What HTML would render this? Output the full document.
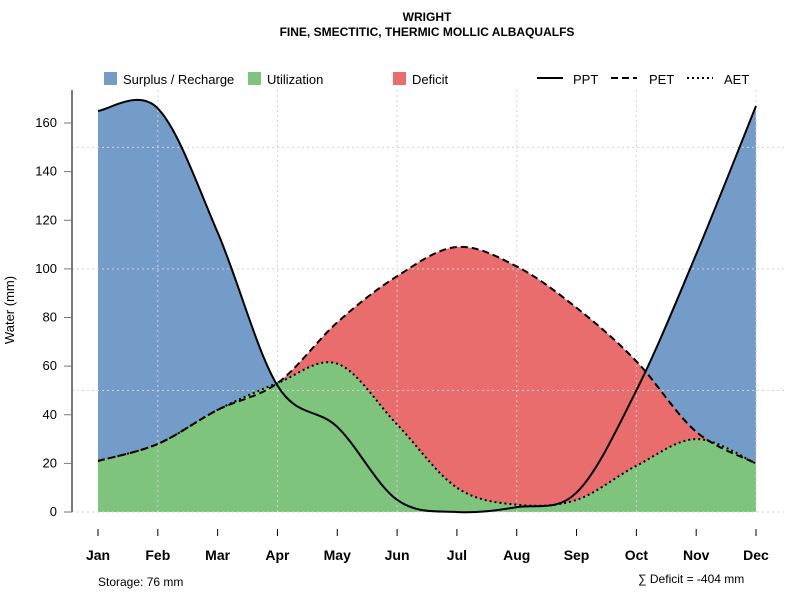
<!DOCTYPE html>
<html><head><meta charset="utf-8"><style>
body{margin:0;background:#fff;font-family:"Liberation Sans",sans-serif}
</style></head><body>
<svg id="c" width="800" height="600" xmlns="http://www.w3.org/2000/svg" font-family="Liberation Sans, sans-serif">
<text x="427" y="21" text-anchor="middle" font-size="12" font-weight="bold">WRIGHT</text>
<text x="427" y="36" text-anchor="middle" font-size="12" font-weight="bold">FINE, SMECTITIC, THERMIC MOLLIC ALBAQUALFS</text>
<g id="fills"></g>
<g id="grid"></g>
<g id="lines"></g>
<g id="axes"></g>
<g font-size="13">
<rect x="104" y="72" width="13" height="13" fill="#739cc8"/>
<text x="123" y="84">Surplus / Recharge</text>
<rect x="248" y="72" width="13" height="13" fill="#7fc47d"/>
<text x="267" y="84">Utilization</text>
<rect x="393" y="72" width="13" height="13" fill="#ea6d6d"/>
<text x="412" y="84">Deficit</text>
<line x1="537" y1="78" x2="563" y2="78" stroke="#000" stroke-width="2"/>
<text x="573" y="84">PPT</text>
<line x1="611" y1="78" x2="637" y2="78" stroke="#000" stroke-width="2" stroke-dasharray="7,4"/>
<text x="649" y="84">PET</text>
<line x1="687" y1="78" x2="713" y2="78" stroke="#000" stroke-width="2" stroke-dasharray="2,3"/>
<text x="724" y="84">AET</text>
</g>
<text x="14" y="310" transform="rotate(-90 14 310)" text-anchor="middle" font-size="13">Water (mm)</text>
<text x="98" y="586" font-size="12">Storage: 76 mm</text>
<text x="638" y="583" font-size="12">∑ Deficit = -404 mm</text>
</svg>
<script>
const months=["Jan","Feb","Mar","Apr","May","Jun","Jul","Aug","Sep","Oct","Nov","Dec"];
const ppt=[165,166,115,52,35,5,0,2,8,50,106,167];
const pet=[21,28,42,53,78,97,109,101,84,62,33,20];
const aet=[21,28,42,53,61,36,10,3,5,19,30,20];
const yTicks=[0,20,40,60,80,100,120,140,160];
const NS="http://www.w3.org/2000/svg";
const X=i=>98+i*(756-98)/11;
const Y=v=>512-v*(512-123)/160;
function mk(tag,attrs,parent){const e=document.createElementNS(NS,tag);for(const k in attrs)e.setAttribute(k,attrs[k]);document.getElementById(parent).appendChild(e);return e;}
function curve(d){
  const p=d.map((v,i)=>[X(i),Y(v)]);let s="M"+p[0][0]+","+p[0][1];
  for(let i=0;i<p.length-1;i++){const p0=p[Math.max(0,i-1)],p1=p[i],p2=p[i+1],p3=p[Math.min(p.length-1,i+2)];
    s+=" C"+(p1[0]+(p2[0]-p0[0])/6)+","+(p1[1]+(p2[1]-p0[1])/6)+" "+(p2[0]-(p3[0]-p1[0])/6)+","+(p2[1]-(p3[1]-p1[1])/6)+" "+p2[0]+","+p2[1];}
  return s;}
function area(d){return curve(d)+" L"+X(11)+","+Y(0)+" L"+X(0)+","+Y(0)+" Z";}
let e;
e=mk("path",{d:area(ppt),fill:"#739cc8"},"fills");


e=mk("path",{d:area(pet),fill:"#ea6d6d"},"fills");


e=mk("path",{d:area(aet),fill:"#7fc47d"},"fills");


[0,50,100,150].forEach(v=>{e=mk("line",{x1:72,x2:785,y1:Y(v),y2:Y(v),stroke:"#d3d3d3","stroke-dasharray":"2,3"},"grid");

});
[1,3,5,7,9,11].forEach(i=>{e=mk("line",{x1:X(i),x2:X(i),y1:90,y2:512,stroke:"#d3d3d3","stroke-dasharray":"2,3"},"grid");

});
e=mk("path",{d:curve(ppt),fill:"none",stroke:"#000","stroke-width":2},"lines");


e=mk("path",{d:curve(pet),fill:"none",stroke:"#000","stroke-width":2,"stroke-dasharray":"7,4"},"lines");


e=mk("path",{d:curve(aet),fill:"none",stroke:"#000","stroke-width":2,"stroke-dasharray":"2,3"},"lines");


e=mk("line",{x1:72,x2:72,y1:90,y2:512,stroke:"#777","stroke-width":2},"axes");


yTicks.forEach(v=>{e=mk("line",{x1:64,x2:72,y1:Y(v),y2:Y(v),stroke:"#777"},"axes");


e=mk("text",{x:57,y:Y(v)+4,"text-anchor":"end","font-size":13},"axes");e.textContent=v;

});
months.forEach((m,i)=>{e=mk("line",{x1:X(i),x2:X(i),y1:529,y2:536,stroke:"#000"},"axes");


e=mk("text",{x:X(i),y:560,"text-anchor":"middle","font-size":14,"font-weight":"bold"},"axes");e.textContent=m;

});
</script>
</body></html>
